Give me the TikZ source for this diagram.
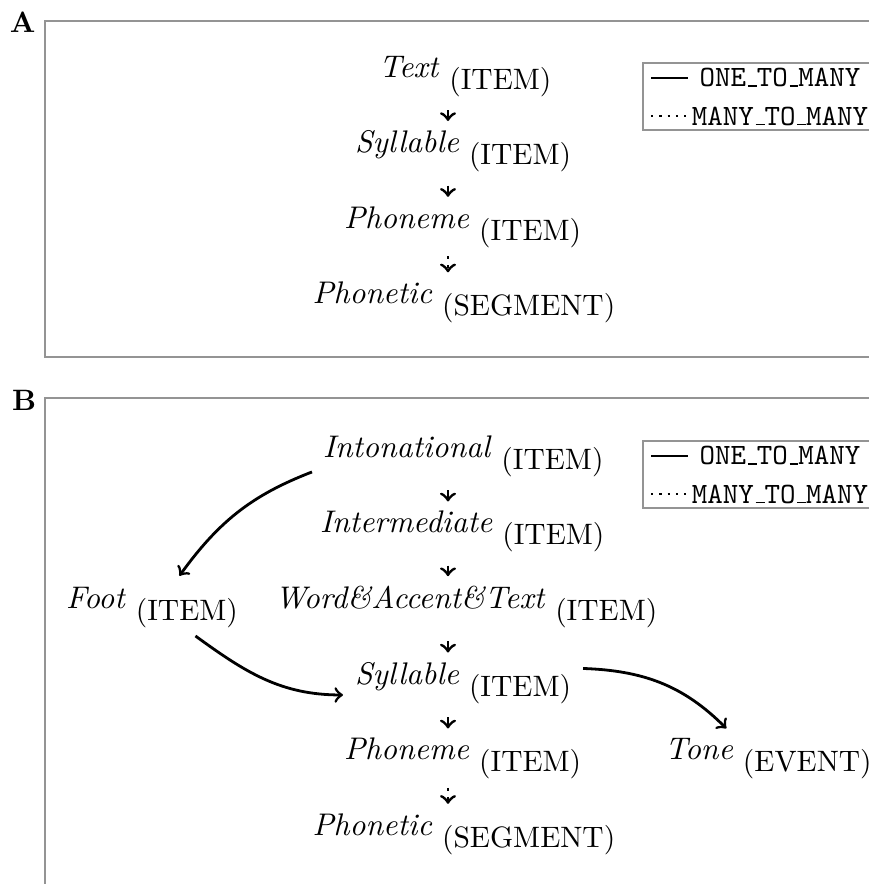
\documentclass[tikz,border=0pt]{standalone}
\usetikzlibrary{calc}
\newcommand\myent[2]{{\fontsize{10.6pt}{12pt}\selectfont\textit{#1}}\ \raisebox{-4.1pt}{(#2)}}
\newcommand\tus{\leavevmode\kern.06em\vbox{\hrule width.3em}}
\begin{document}
\begin{tikzpicture}[x=0.339pt,y=0.339pt,
  ent/.style={inner sep=0pt, outer sep=0pt, anchor=base west},
  lab/.style={inner sep=0pt, outer sep=0pt, anchor=base west, font=\bfseries},
  legtxt/.style={inner sep=0pt, outer sep=0pt, anchor=base, font=\ttfamily},
  one/.style={->, line width=1pt, shorten <=4.6pt, shorten >=3.2pt},
  many/.style={->, line width=1pt, dotted, shorten <=3pt, shorten >=3.2pt},
  curve/.style={->, line width=0.95pt},
  frame/.style={draw=black!42, line width=0.5pt},
  legframe/.style={draw=black!42, line width=0.5pt},
  legsolid/.style={line width=0.95pt},
  legdot/.style={line width=0.8pt, dotted}]
\useasboundingbox (0,-884) rectangle (868,0);

% ---------- Panel A ----------
\node[lab] (labA) at (10,-32) {A};
\draw[frame] (45,-21) rectangle (900,-357);

\node[ent] (tA)  at (379,-77)    {\myent{Text}{ITEM}};
\node[ent] (sA)  at (355,-152.5) {\myent{Syllable}{ITEM}};
\node[ent] (pA)  at (344,-228)   {\myent{Phoneme}{ITEM}};
\node[ent] (phA) at (312.5,-303.5) {\myent{Phonetic}{SEGMENT}};
\coordinate (colA) at (448,0);
\draw[one]  (tA.south -| colA) -- (sA.north -| colA);
\draw[one]  (sA.south -| colA) -- (pA.north -| colA);
\draw[many] (pA.south -| colA) -- (phA.north -| colA);

\draw[legframe] (643,-63) rectangle (880,-130);
\draw[legsolid] (651,-78) -- (688,-78);
\draw[legdot] (651,-116) -- (686,-116);
\node[legtxt] (lgA1) at (780,-86.5) {ONE\tus TO\tus MANY};
\node[legtxt] (lgA2) at (780,-125) {MANY\tus TO\tus MANY};

% ---------- Panel B ----------
\node[lab] (labB) at (12,-410) {B};
\draw[frame] (45,-398) rectangle (900,-930);

\node[ent] (intn) at (323,-457)   {\myent{Intonational}{ITEM}};
\node[ent] (intm) at (320,-532.6) {\myent{Intermediate}{ITEM}};
\node[ent] (wat)  at (275,-608)   {\myent{Word\&Accent\&Text}{ITEM}};
\node[ent] (syl)  at (355,-684)   {\myent{Syllable}{ITEM}};
\node[ent] (pho)  at (344,-759.6) {\myent{Phoneme}{ITEM}};
\node[ent] (phn)  at (312.5,-835) {\myent{Phonetic}{SEGMENT}};
\node[ent] (foot) at (66,-608)    {\myent{Foot}{ITEM}};
\node[ent] (tone) at (665,-759.6) {\myent{Tone}{EVENT}};
\coordinate (colB) at (448,0);
\draw[one]  (intn.south -| colB) -- (intm.north -| colB);
\draw[one]  (intm.south -| colB) -- (wat.north -| colB);
\draw[one]  (wat.south -| colB)  -- (syl.north -| colB);
\draw[one]  (syl.south -| colB)  -- (pho.north -| colB);
\draw[many] (pho.south -| colB)  -- (phn.north -| colB);

\draw[curve] ($(intn.south west)+(-11,4.5)$) to[out=201,in=54] ($(foot.north)+(27.5,11)$);
\draw[curve] ($(foot.south)+(43.5,-8.5)$) to[out=-36,in=180] ($(syl.south west)+(-12,8.5)$);
\draw[curve] ($(syl.north east)+(12,-6.5)$) to[out=-2,in=135] ($(tone.north)+(-42,10)$);

\draw[legframe] (643,-441) rectangle (880,-508);
\draw[legsolid] (651,-456) -- (688,-456);
\draw[legdot] (651,-494) -- (686,-494);
\node[legtxt] (lgB1) at (780,-464.5) {ONE\tus TO\tus MANY};
\node[legtxt] (lgB2) at (780,-503) {MANY\tus TO\tus MANY};
\end{tikzpicture}
\end{document}
